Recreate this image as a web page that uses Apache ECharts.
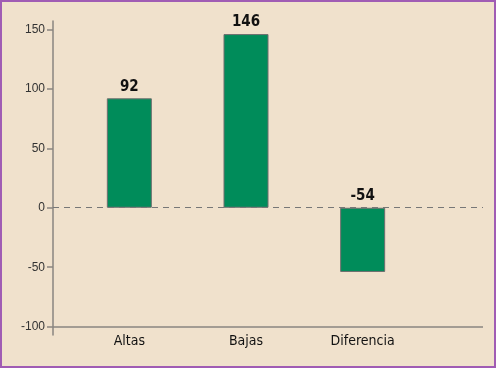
<!DOCTYPE html>
<html><head><meta charset="utf-8">
<script src="https://cdn.jsdelivr.net/npm/echarts@6/dist/echarts.min.js"></script>
<style>
html,body{margin:0;padding:0;background:#f0e1cc;}
#c{width:496px;height:368px;box-sizing:border-box;border:2px solid #a05cb4;background:#f0e1cc;}
</style></head><body>
<div id="c"></div>
<script>
const categories = ['Altas', 'Bajas', 'Diferencia'];
const values = [92, 146, -54];
const yTicks = [-100, -50, 0, 50, 100, 150];

const chart = echarts.init(document.getElementById('c'), null, {renderer: 'canvas'});
const yMin = -107, yMax = 157;
const font = "'Liberation Sans Narrow', 'DejaVu Sans Condensed', sans-serif";
chart.setOption({
  animation: false,
  backgroundColor: '#f0e1cc',
  grid: [
    {left: 51, right: 11, top: 19, bottom: 31, containLabel: false},
    {left: 69, right: 73, top: 19, bottom: 31, containLabel: false}
  ],
  xAxis: [
    {type: 'category', gridIndex: 0, data: categories, show: false},
    {type: 'category', gridIndex: 1, data: categories,
      axisLine: {show: false}, axisTick: {show: false},
      axisLabel: {margin: -1, fontSize: 14, color: '#111', fontFamily: font}}
  ],
  yAxis: [
    {type: 'value', gridIndex: 0, min: yMin, max: yMax,
      axisLine: {show: true, lineStyle: {color: '#8a8580', width: 1.5}},
      axisTick: {show: true, inside: false, length: 6, customValues: yTicks, lineStyle: {color: '#8a8580', width: 1.5}},
      axisLabel: {customValues: yTicks, fontSize: 12, color: '#333', margin: 8, fontFamily: 'Liberation Sans, Arial, sans-serif'},
      splitLine: {show: false}},
    {type: 'value', gridIndex: 1, min: yMin, max: yMax, show: false, splitLine: {show: false}}
  ],
  series: [
    {type: 'line', xAxisIndex: 0, yAxisIndex: 0, data: [null, null, null], silent: true,
      markLine: {silent: true, symbol: 'none', label: {show: false},
        data: [
          {yAxis: 0, lineStyle: {type: [6, 5], color: '#777', width: 1}},
          {yAxis: -100, lineStyle: {type: 'solid', color: '#8a8580', width: 1.5}}
        ]}},
    {type: 'bar', xAxisIndex: 1, yAxisIndex: 1, data: values, barWidth: 45,
      itemStyle: {color: '#008c5a', borderColor: '#6e6e6e', borderWidth: 1},
      label: {show: true, position: 'top', distance: 4, fontSize: 15, fontWeight: 'bold', color: '#111', fontFamily: font}}
  ]
});
</script>
</body></html>
